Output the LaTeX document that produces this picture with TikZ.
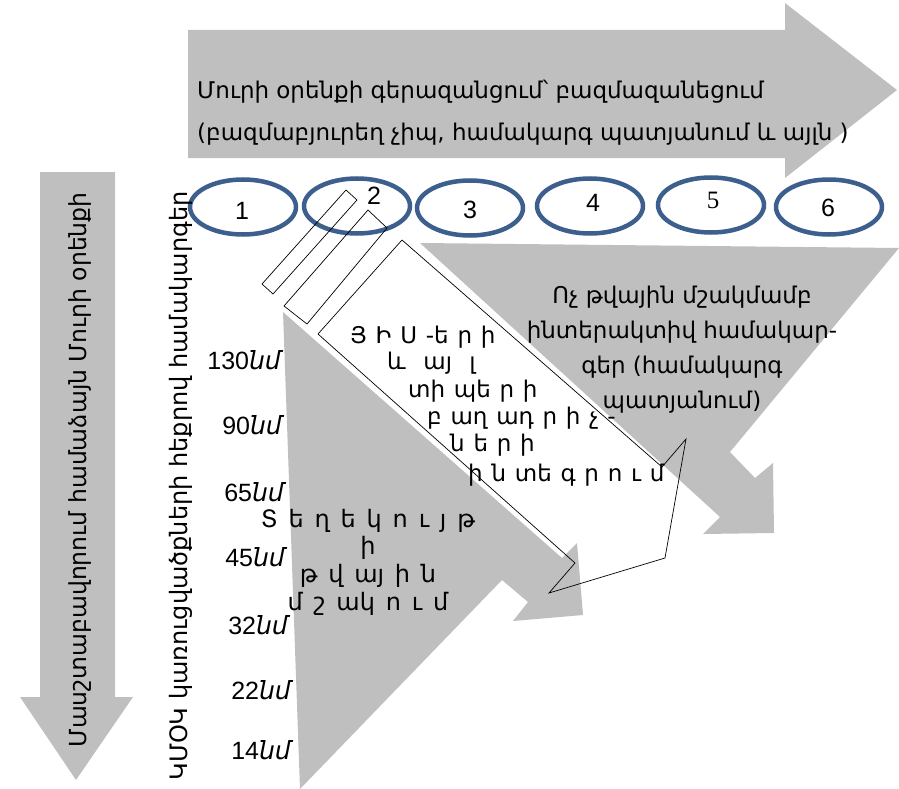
\documentclass[tikz,border=0pt]{standalone}
\usepackage{fontspec}
\setmainfont{Liberation Sans}
\newfontfamily\hyfont{DejaVu Sans}
\newfontfamily\numserif{Liberation Serif}
\usetikzlibrary{shapes.geometric}
\definecolor{arrowGray}{HTML}{BFBFBF}
\definecolor{ringBlue}{HTML}{3C5F8E}
% spaced-out lettering
\newcommand{\spacedA}{\spaceskip 0.38em\relax}
\newcommand{\spacedB}{\spaceskip 0.45em\relax}

\begin{document}
\begin{tikzpicture}[x=1pt, y=-1pt, font=\fontsize{25}{28}\selectfont]
	\tikzstyle{grayArrow} = [fill=arrowGray, draw=none]
	\tikzstyle{ringStyle} = [shape=ellipse, draw=ringBlue, line width=4.5pt, fill=white, minimum width=106pt, minimum height=55pt, inner sep=0pt]
	\tikzstyle{outlineStyle} = [draw=black, line width=0.7pt, line join=miter]
	\tikzstyle{hyText} = [font=\hyfont\fontsize{23}{27.6}\selectfont\spacedA, align=center, inner sep=0pt]
	\tikzstyle{sizeLabel} = [anchor=east, inner sep=0pt, font=\fontsize{25}{28}\selectfont]
	\useasboundingbox (0,0) rectangle (899,789);

	% gray arrows
	\fill[grayArrow] (188,30) -- (785,30) -- (785,3) -- (897,90) -- (785,178) -- (785,158) -- (188,158) -- cycle;
	\fill[grayArrow] (40,172) -- (115,172) -- (115,697) -- (133,697) -- (76,780) -- (20,697) -- (40,697) -- cycle;
	\fill[grayArrow] (420,243) -- (899,248) -- (730,452) -- (755,478) -- (773,463) -- (774,533) -- (703,534) -- (720,517) -- cycle;
	\fill[grayArrow] (283,312) -- (562,558) -- (577,543) -- (583,615) -- (513,621) -- (528,602) -- (502,580) -- (300,789) -- cycle;

	% process steps
	\node[ringStyle] (e1) at (243,207) {};
	\node[ringStyle] (e2) at (357,206) {};
	\node[ringStyle] (e3) at (470,208) {};
	\node[ringStyle] (e4) at (590,206) {};
	\node[ringStyle] (e5) at (711,205) {};
	\node[ringStyle] (e6) at (829,207) {};
	\node (n1) at (242,211) {1};
	\node (n2) at (374,196) {2};
	\node (n3) at (470,210) {3};
	\node (n4) at (593,203) {4};
	\node[font=\numserif\fontsize{25}{28}\selectfont] (n5) at (713,200) {5};
	\node (n6) at (828,208) {6};

	% outlined bars and arrow
	\draw[outlineStyle] (346,190) -- (357,200) -- (273,294) -- (262,284) -- cycle;
	\draw[outlineStyle] (368,210) -- (387,228) -- (307,324) -- (284,306) -- cycle;
	\draw[outlineStyle] (402,240) -- (662,467) -- (686,439) -- (665,558) -- (549,593) -- (575,563) -- (318,334) -- cycle;

	% texts
	\node[hyText, anchor=north west, align=left, font=\hyfont\fontsize{23}{42}\selectfont] (moore) at (197,80) {Մուրի օրենքի գերազանցում՝ բազմազանեցում\\(բազմաբյուրեղ չիպ, համակարգ պատյանում և այլն )};
	\node[hyText, font=\hyfont\fontsize{23}{35}\selectfont] (interactive) at (682,350) {Ոչ թվային մշակմամբ\\ինտերակտիվ համակար-\\գեր (համակարգ\\պատյանում)};
	\node[hyText, font=\hyfont\fontsize{24}{27.7}\selectfont\spacedB] (digital) at (368,562) {Տ ե ղ ե կ ո ւ յ թ\\ի\\թ վ այ ի ն\\մ շ ակ ո ւ մ};
	\node[hyText, anchor=west] (d1) at (350,337) {Յ Ի Ս -ե ր ի};
	\node[hyText, anchor=west] (d2) at (387,363) {և \ այ \ լ};
	\node[hyText, anchor=west] (d3) at (408,391) {տի պե ր ի};
	\node[hyText, anchor=west] (d4) at (427,418) {բ աղ ադ ր ի չ -};
	\node[hyText, anchor=west] (d5) at (450,445) {ն ե ր ի};
	\node[hyText, anchor=west] (d6) at (468,475) {ի ն տե գ ր ո ւ մ};

	\node[sizeLabel] (s130) at (281,360) {130{\hyfont\itshape նմ}};
	\node[sizeLabel] (s90) at (282,425) {90{\hyfont\itshape նմ}};
	\node[sizeLabel] (s65) at (284,492) {65{\hyfont\itshape նմ}};
	\node[sizeLabel] (s45) at (285,557) {45{\hyfont\itshape նմ}};
	\node[sizeLabel] (s32) at (288,625) {32{\hyfont\itshape նմ}};
	\node[sizeLabel] (s22) at (291,690) {22{\hyfont\itshape նմ}};
	\node[sizeLabel] (s14) at (291,750) {14{\hyfont\itshape նմ}};

	\node[hyText, rotate=90, font=\hyfont\fontsize{23.5}{26}\selectfont] (scaling) at (80,470) {Մասշտաբավորում համաձայն Մուրի օրենքի};
	\node[hyText, rotate=90, font=\hyfont\fontsize{24}{26}\selectfont] (cmos) at (181,486) {ԿՄՕԿ կառուցվածքների հեքրով համակարգեր};
\end{tikzpicture}
\end{document}
